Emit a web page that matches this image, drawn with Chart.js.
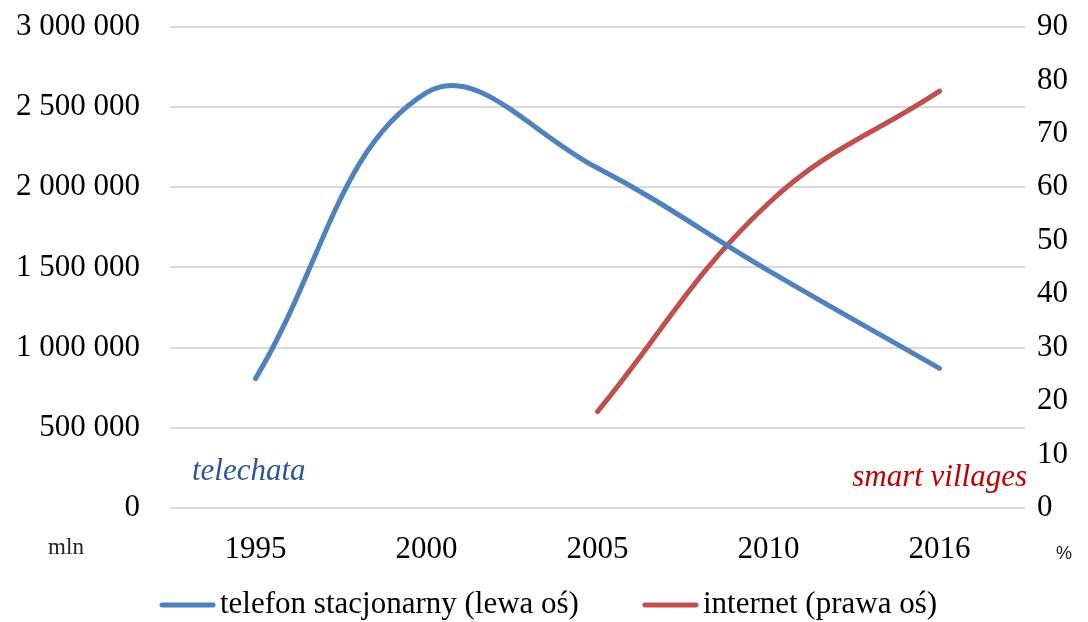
<!DOCTYPE html>
<html>
<head>
<meta charset="utf-8">
<script src="https://cdn.jsdelivr.net/npm/chart.js@4.4.1/dist/chart.umd.min.js"></script>
<style>
  html, body { margin: 0; padding: 0; background: #fff; }
</style>
</head>
<body>
<canvas id="c" width="1088" height="622"></canvas>
<script>
const years = ['1995', '2000', '2005', '2010', '2016']
const phoneLines = [806000, 2590000, 2120000, 1480000, 870000]
const internetPct = [null, null, 18, 57, 78]

const serif = '"Liberation Serif", "Times New Roman", serif'

// plain spaced thousands, like "2 500 000"
const spaced = v => String(v).replace(/\B(?=(\d{3})+(?!\d))/g, ' ')

// the legend is drawn by hand: Chart.js can't do the wide gap between items
const notes = {
  id: 'notes',
  afterDraw(chart) {
    const { ctx, chartArea } = chart
    ctx.save()
    ctx.textBaseline = 'middle'

    let x = 160
    const ly = 605
    ctx.font = '31px ' + serif
    ctx.lineCap = 'round'
    chart.data.datasets.forEach(ds => {
      ctx.strokeStyle = ds.borderColor
      ctx.lineWidth = ds.borderWidth
      ctx.beginPath()
      ctx.moveTo(x + 2, ly)
      ctx.lineTo(x + 53, ly)
      ctx.stroke()
      ctx.fillStyle = '#000'
      ctx.textAlign = 'left'
      ctx.fillText(ds.label, x + 60, ly)
      x += 60 + ctx.measureText(ds.label).width + 64
    })

    ctx.font = 'italic 31px ' + serif
    ctx.fillStyle = '#2F5597'
    ctx.fillText('telechata', chartArea.left + 22, 472)
    ctx.fillStyle = '#C00000'
    ctx.textAlign = 'right'
    ctx.fillText('smart villages', chartArea.right + 2, 478)

    ctx.fillStyle = '#222'
    ctx.font = '23px ' + serif
    ctx.textAlign = 'center'
    ctx.fillText('mln', 66, 548)
    ctx.font = '18px "Liberation Sans", Arial, sans-serif'
    ctx.fillText('%', 1064, 554)
    ctx.restore()
  }
}

const axisTop = s => { s.paddingTop = 27; s.paddingBottom = 0 }

new Chart(document.getElementById('c'), {
  type: 'line',
  data: {
    labels: years,
    datasets: [
      {
        label: 'telefon stacjonarny (lewa oś)',
        data: phoneLines,
        yAxisID: 'y',
        borderColor: '#4F81BD',
        backgroundColor: '#4F81BD',
        borderWidth: 5,
        borderCapStyle: 'round',
        pointRadius: 0,
        tension: 0.4
      },
      {
        label: 'internet (prawa oś)',
        data: internetPct,
        yAxisID: 'y1',
        borderColor: '#C0504D',
        backgroundColor: '#C0504D',
        borderWidth: 5,
        borderCapStyle: 'round',
        pointRadius: 0,
        tension: 0.4
      }
    ]
  },
  options: {
    responsive: false,
    animation: false,
    layout: { padding: { top: 0, left: 0, right: 0, bottom: 39 } },
    plugins: {
      legend: { display: false },
      tooltip: { enabled: false }
    },
    scales: {
      x: {
        offset: true,
        grid: { display: false },
        border: { display: false },
        ticks: { color: '#000', padding: 15, font: { family: serif, size: 31 } }
      },
      y: {
        position: 'left',
        min: 0,
        max: 3000000,
        grid: { color: '#D9D9D9', lineWidth: 2, drawTicks: false },
        border: { display: false },
        ticks: {
          stepSize: 500000,
          padding: 30,
          color: '#000',
          font: { family: serif, size: 31 },
          callback: v => spaced(v)
        },
        afterFit: s => { s.width = 170; axisTop(s) }
      },
      y1: {
        position: 'right',
        min: 0,
        max: 90,
        grid: { display: false, drawTicks: false },
        border: { display: false },
        ticks: { stepSize: 10, padding: 12, color: '#000', font: { family: serif, size: 31 } },
        afterFit: s => { s.width = 63; axisTop(s) }
      }
    }
  },
  plugins: [notes]
})
</script>
</body>
</html>
